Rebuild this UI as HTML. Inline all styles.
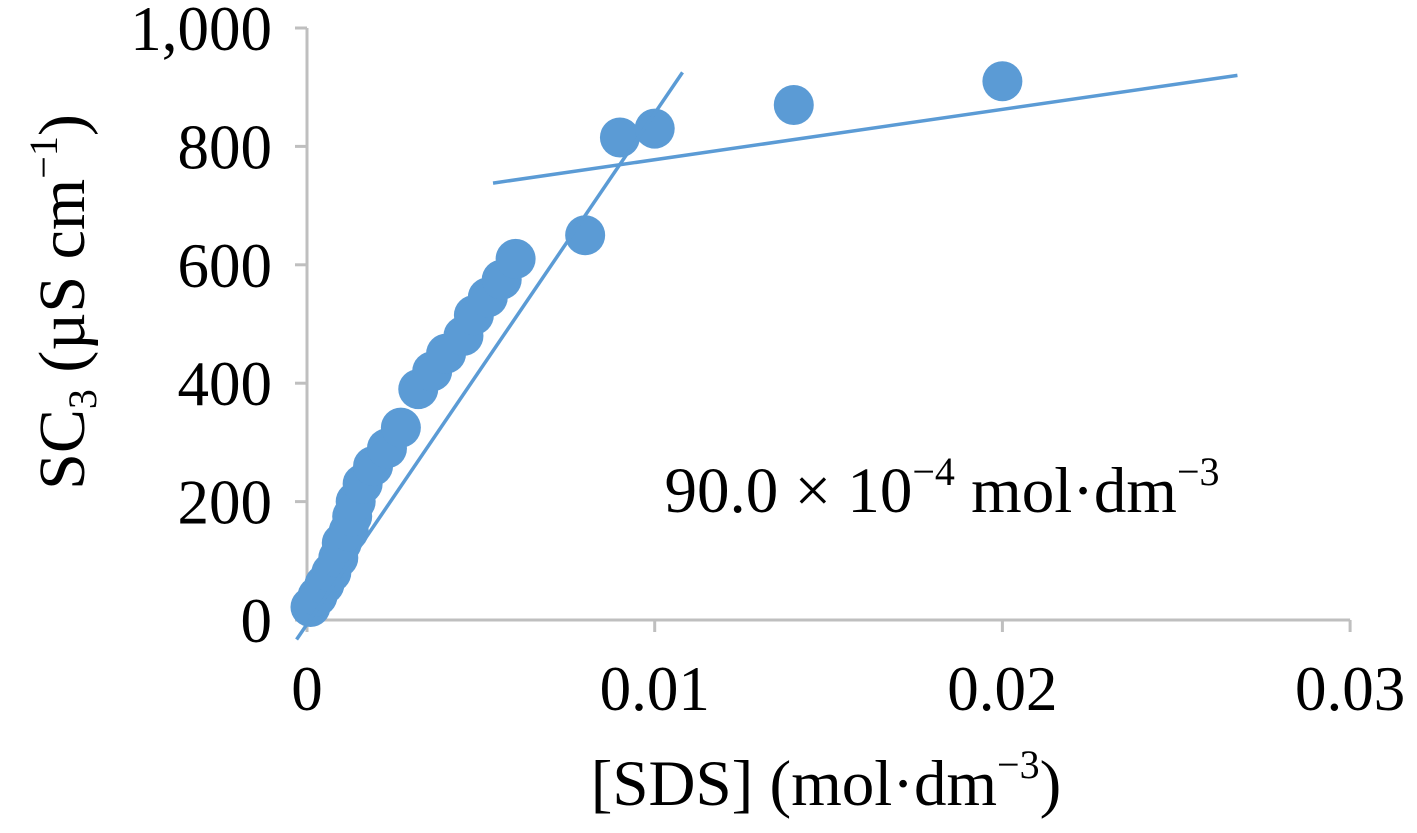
<!DOCTYPE html>
<html><head><meta charset="utf-8"><style>
body{margin:0;background:#fff}
svg text{font-family:"Liberation Serif",serif;fill:#000}
</style></head><body>
<svg width="1417" height="828">
<g id="axes"></g><g id="marks"></g>
<text x="942" y="512" font-size="65" text-anchor="middle">90.0 × 10<tspan font-size="40" dy="-27">−4</tspan><tspan dy="27"> mol·dm</tspan><tspan font-size="40" dy="-27">−3</tspan></text>
<text x="826" y="805" font-size="65" text-anchor="middle">[SDS] (mol·dm<tspan font-size="40" dy="-27">−3</tspan><tspan dy="27">)</tspan></text>
<text transform="translate(84,302) rotate(-90)" font-size="66" text-anchor="middle">SC<tspan font-size="40" dy="12">3</tspan><tspan dy="-12"> (µS cm</tspan><tspan font-size="40" dy="-27">−1</tspan><tspan dy="27">)</tspan></text>
</svg>
<script>
const xs=[0.0001,0.0003,0.0005,0.0007,0.0009,0.001,0.0012,0.0013,0.0014,0.0016,0.0019,0.0023,0.0027,0.0032,0.0036,0.004,0.0045,0.0048,0.0052,0.0056,0.006,0.008,0.009,0.01,0.014,0.02];
const ys=[22,40,60,80,105,130,150,175,200,230,260,290,325,390,420,450,480,515,545,575,610,650,815,830,870,910];
const xTicks=[0,0.01,0.02,0.03];
const xTickLabels=["0","0.01","0.02","0.03"];
const yTicks=[0,200,400,600,800,1000];
const yTickLabels=["0","200","400","600","800","1,000"];
const fit1=[[-0.0003,-33],[0.0108,925]];
const fit2=[[0.00535,738],[0.02676,920]];
const X=v=>307+v*34770, Y=v=>620-v*0.592;
const NS="http://www.w3.org/2000/svg";
function mk(t,a,p){const e=document.createElementNS(NS,t);for(const k in a)e.setAttribute(k,a[k]);p.appendChild(e);return e;}
const ax=document.getElementById('axes'),mg=document.getElementById('marks');
let e=mk('line',{x1:X(0),x2:X(0),y1:Y(1000),y2:Y(0),stroke:'#bfbfbf','stroke-width':3},ax);

e=mk('line',{x1:X(0),x2:X(0.03),y1:Y(0),y2:Y(0),stroke:'#bfbfbf','stroke-width':3},ax);

xTicks.forEach((v,i)=>{
 let t=mk('line',{x1:X(v),x2:X(v),y1:Y(0),y2:Y(0)+12,stroke:'#bfbfbf','stroke-width':3},ax);
 
 let l=mk('text',{x:X(v),y:710,'font-size':63,'text-anchor':'middle'},ax);l.textContent=xTickLabels[i];
 
});
yTicks.forEach((v,i)=>{
 let t=mk('line',{x1:X(0)-12,x2:X(0),y1:Y(v),y2:Y(v),stroke:'#bfbfbf','stroke-width':3},ax);
 
 let l=mk('text',{x:272,y:Y(v)+22,'font-size':63,'text-anchor':'end'},ax);l.textContent=yTickLabels[i];
 
});
xs.forEach((v,i)=>{
 let c=mk('circle',{cx:X(v),cy:Y(ys[i]),r:20,fill:'#5b9bd5'},mg);
 
});
[fit1,fit2].forEach((f,i)=>{
 let l=mk('line',{x1:X(f[0][0]),y1:Y(f[0][1]),x2:X(f[1][0]),y2:Y(f[1][1]),stroke:'#5b9bd5','stroke-width':3.5},mg);
 
});
</script>
</body></html>
